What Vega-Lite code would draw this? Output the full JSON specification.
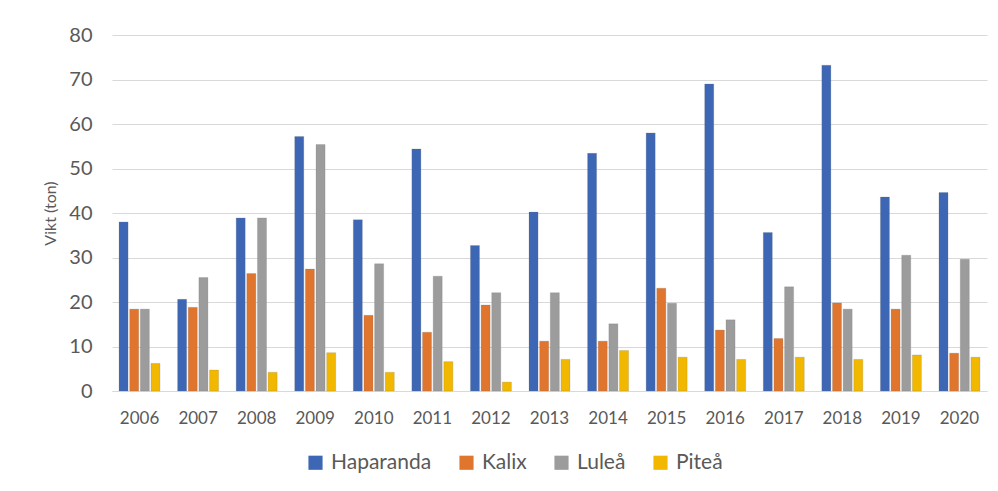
{
  "$schema": "https://vega.github.io/schema/vega-lite/v6.json",
  "width": 875,
  "height": 356,
  "autosize": "none",
  "padding": {"left": 112, "top": 35, "right": 11, "bottom": 100},
  "background": "white",
  "data": {
    "values": [
      {"year": "2006", "place": "Haparanda", "value": 38.0},
      {"year": "2006", "place": "Kalix", "value": 18.4},
      {"year": "2006", "place": "Luleå", "value": 18.4},
      {"year": "2006", "place": "Piteå", "value": 6.2},
      {"year": "2007", "place": "Haparanda", "value": 20.6},
      {"year": "2007", "place": "Kalix", "value": 18.8},
      {"year": "2007", "place": "Luleå", "value": 25.5},
      {"year": "2007", "place": "Piteå", "value": 4.7},
      {"year": "2008", "place": "Haparanda", "value": 38.9},
      {"year": "2008", "place": "Kalix", "value": 26.4},
      {"year": "2008", "place": "Luleå", "value": 38.9},
      {"year": "2008", "place": "Piteå", "value": 4.2},
      {"year": "2009", "place": "Haparanda", "value": 57.2},
      {"year": "2009", "place": "Kalix", "value": 27.4},
      {"year": "2009", "place": "Luleå", "value": 55.4},
      {"year": "2009", "place": "Piteå", "value": 8.6},
      {"year": "2010", "place": "Haparanda", "value": 38.5},
      {"year": "2010", "place": "Kalix", "value": 17.0},
      {"year": "2010", "place": "Luleå", "value": 28.6},
      {"year": "2010", "place": "Piteå", "value": 4.2},
      {"year": "2011", "place": "Haparanda", "value": 54.4},
      {"year": "2011", "place": "Kalix", "value": 13.2},
      {"year": "2011", "place": "Luleå", "value": 25.8},
      {"year": "2011", "place": "Piteå", "value": 6.6},
      {"year": "2012", "place": "Haparanda", "value": 32.7},
      {"year": "2012", "place": "Kalix", "value": 19.3},
      {"year": "2012", "place": "Luleå", "value": 22.1},
      {"year": "2012", "place": "Piteå", "value": 2.0},
      {"year": "2013", "place": "Haparanda", "value": 40.2},
      {"year": "2013", "place": "Kalix", "value": 11.2},
      {"year": "2013", "place": "Luleå", "value": 22.1},
      {"year": "2013", "place": "Piteå", "value": 7.1},
      {"year": "2014", "place": "Haparanda", "value": 53.4},
      {"year": "2014", "place": "Kalix", "value": 11.2},
      {"year": "2014", "place": "Luleå", "value": 15.1},
      {"year": "2014", "place": "Piteå", "value": 9.1},
      {"year": "2015", "place": "Haparanda", "value": 58.0},
      {"year": "2015", "place": "Kalix", "value": 23.1},
      {"year": "2015", "place": "Luleå", "value": 19.7},
      {"year": "2015", "place": "Piteå", "value": 7.6},
      {"year": "2016", "place": "Haparanda", "value": 69.0},
      {"year": "2016", "place": "Kalix", "value": 13.7},
      {"year": "2016", "place": "Luleå", "value": 16.0},
      {"year": "2016", "place": "Piteå", "value": 7.1},
      {"year": "2017", "place": "Haparanda", "value": 35.6},
      {"year": "2017", "place": "Kalix", "value": 11.8},
      {"year": "2017", "place": "Luleå", "value": 23.4},
      {"year": "2017", "place": "Piteå", "value": 7.6},
      {"year": "2018", "place": "Haparanda", "value": 73.2},
      {"year": "2018", "place": "Kalix", "value": 19.8},
      {"year": "2018", "place": "Luleå", "value": 18.4},
      {"year": "2018", "place": "Piteå", "value": 7.1},
      {"year": "2019", "place": "Haparanda", "value": 43.6},
      {"year": "2019", "place": "Kalix", "value": 18.4},
      {"year": "2019", "place": "Luleå", "value": 30.5},
      {"year": "2019", "place": "Piteå", "value": 8.1},
      {"year": "2020", "place": "Haparanda", "value": 44.6},
      {"year": "2020", "place": "Kalix", "value": 8.5},
      {"year": "2020", "place": "Luleå", "value": 29.6},
      {"year": "2020", "place": "Piteå", "value": 7.6}
    ]
  },
  "mark": {"type": "bar", "stroke": "#6f6f6f", "strokeOpacity": 0.35, "strokeWidth": 0.6},
  "encoding": {
    "x": {
      "field": "year",
      "type": "ordinal",
      "scale": {"paddingInner": 0.3, "paddingOuter": 0.12},
      "axis": {
        "title": null,
        "labelAngle": 0,
        "labelFont": "Lato",
        "labelFontSize": 17,
        "labelColor": "#595959",
        "labelPadding": 19,
        "domain": true,
        "domainColor": "#d9d9d9",
        "ticks": false
      }
    },
    "xOffset": {
      "field": "place",
      "type": "nominal",
      "sort": ["Haparanda", "Kalix", "Luleå", "Piteå"],
      "scale": {"paddingInner": 0.15}
    },
    "y": {
      "field": "value",
      "type": "quantitative",
      "scale": {"domain": [0, 80]},
      "axis": {
        "title": "Vikt (ton)",
        "titleFont": "Lato",
        "titleFontSize": 16,
        "titleFontWeight": "normal",
        "titleColor": "#595959",
        "titlePadding": 10,
        "labelFont": "Lato",
        "labelFontSize": 20,
        "labelColor": "#595959",
        "labelPadding": 20,
        "labelOverlap": false,
        "values": [0, 10, 20, 30, 40, 50, 60, 70, 80],
        "domain": false,
        "ticks": false,
        "grid": true,
        "gridColor": "#d9d9d9",
        "gridWidth": 1.2
      }
    },
    "color": {
      "field": "place",
      "type": "nominal",
      "sort": ["Haparanda", "Kalix", "Luleå", "Piteå"],
      "scale": {
        "domain": ["Haparanda", "Kalix", "Luleå", "Piteå"],
        "range": ["#3d66b4", "#e0752e", "#9c9c9c", "#f2b800"]
      },
      "legend": {
        "title": null,
        "orient": "none",
        "legendX": 193,
        "legendY": 417,
        "direction": "horizontal",
        "symbolType": "square",
        "symbolSize": 200,
        "symbolStrokeWidth": 0,
        "labelFont": "Lato",
        "labelFontSize": 21,
        "labelColor": "#595959",
        "labelOffset": 5,
        "columnPadding": 24
      }
    }
  },
  "config": {
    "view": {"stroke": null}
  }
}
